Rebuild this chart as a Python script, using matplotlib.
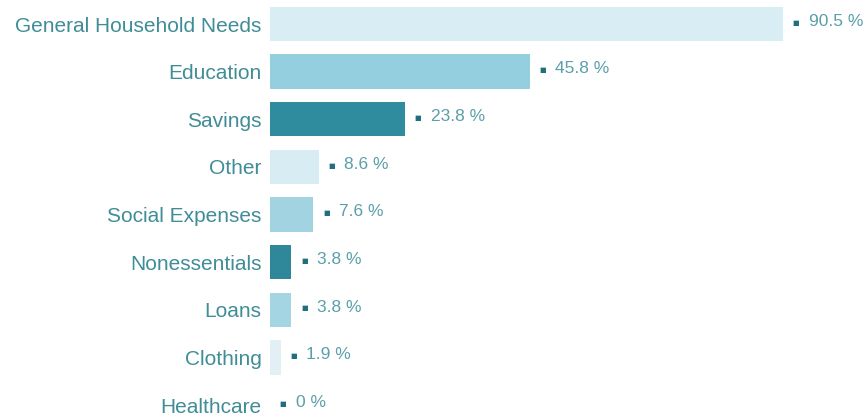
import matplotlib.pyplot as plt

categories = ["General Household Needs", "Education", "Savings", "Other",
              "Social Expenses", "Nonessentials", "Loans", "Clothing", "Healthcare"]
values = [90.5, 45.8, 23.8, 8.6, 7.6, 3.8, 3.8, 1.9, 0]
bar_colors = ["#d9eef4", "#93cfde", "#2f8c9f", "#d8edf3", "#a2d3e1",
              "#2e889a", "#a4d5e3", "#e2f0f5", "#e2f0f5"]

fig = plt.figure(figsize=(8.68, 4.16), dpi=100)
ax = fig.add_axes([0.311, 0.0, 0.689, 1.0])

ypos = list(range(len(categories)))
ax.barh(ypos, values, height=0.72, color=bar_colors)

# little square marker + percentage to the right of each bar
for y, v in zip(ypos, values):
    ax.annotate("\u25a0", xy=(v, y), xytext=(9.5, 1), textcoords="offset points",
                va="center", ha="center", fontsize=5, color="#1f6f7c",
                family="DejaVu Sans")
    ax.annotate(f"{v:g} %", xy=(v, y), xytext=(18.5, 2), textcoords="offset points",
                va="center", ha="left", fontsize=12.5, color="#5a9fa9",
                family="Liberation Sans")

ax.set_xlim(0, 105.5)
ax.set_ylim(8.23, -0.504)
ax.set_yticks(ypos)
ax.set_yticklabels(categories, fontsize=15, color="#3f8d97", family="Liberation Sans")
ax.tick_params(axis="y", length=0, pad=6)
ax.set_xticks([])
for s in ax.spines.values():
    s.set_visible(False)

fig.savefig("out.png", dpi=100)
